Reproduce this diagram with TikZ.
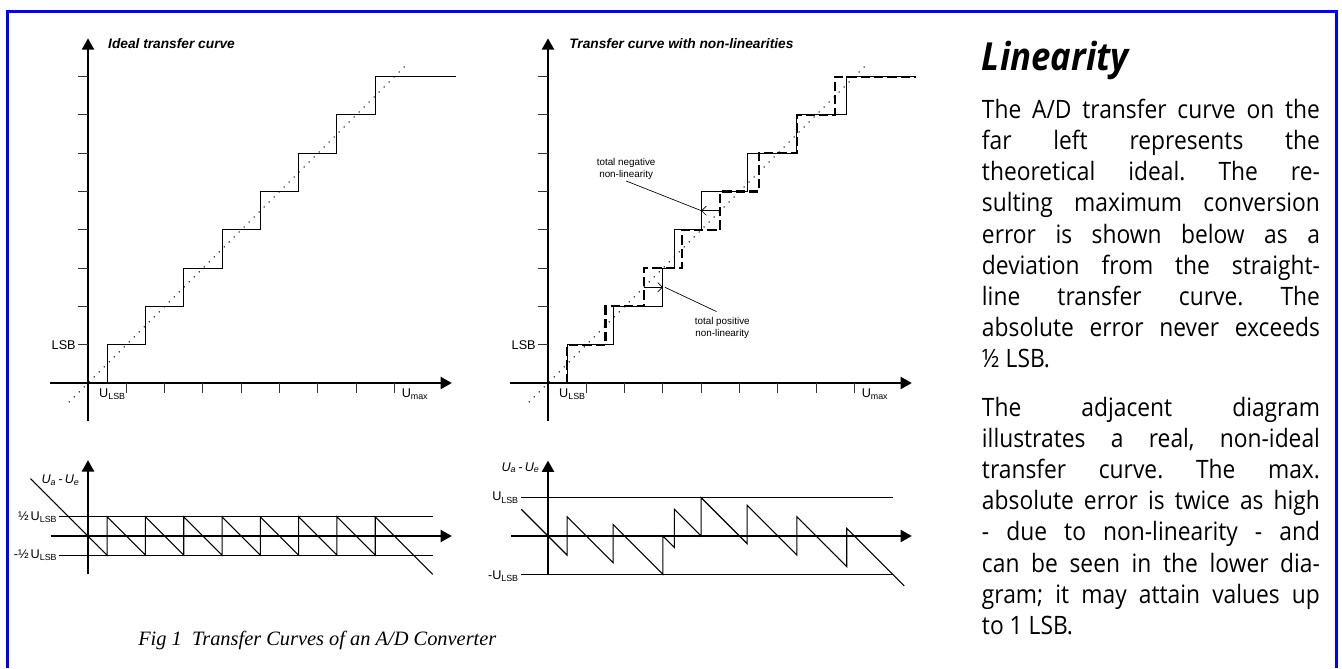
\documentclass[tikz,border=0pt]{standalone}
\usepackage{fontspec}
\setmainfont{Liberation Sans}
\newfontfamily\bodyfont[FakeStretch=0.9]{Open Sans}
\newfontfamily\capfont{Liberation Serif}
\usetikzlibrary{arrows.meta}
\def\idealsteps{0.5,1.5,2.5,3.5,4.5,5.5,6.5,7.5}
\def\realsteps{0.5,1.7,3,3.3,4,5.2,6.5,7.8}

\begin{document}
\begin{tikzpicture}[x=0.75pt,y=-0.75pt]
	\tikzset{axis/.style={line width=1.7pt,-{Triangle[width=9pt,length=8.5pt]}}}
	\tikzset{tickmark/.style={line width=0.75pt,black!80}}
	\tikzset{stair/.style={line width=0.8pt}}
	\tikzset{idealstair/.style={line width=1.6pt,dash pattern=on 7pt off 3pt}}
	\tikzset{slope/.style={line width=0.8pt,dash pattern=on 0.8pt off 4.5pt}}
	\tikzset{bound/.style={line width=0.6pt}}
	\tikzset{axlabel/.style={font=\fontsize{9.5}{11}\selectfont,inner sep=1pt}}
	\tikzset{plottitle/.style={font=\fontsize{10.3}{12}\selectfont\bfseries\itshape,anchor=west,inner sep=0pt}}
	\tikzset{remark/.style={font=\fontsize{7.4}{8.8}\selectfont,align=center,inner sep=1pt}}
	\tikzset{pointer/.style={line width=0.5pt,-{Straight Barb[length=3.5pt,width=7pt]}}}
	\tikzset{unit/.style={x=28.725pt,y=28.725pt}}

	\useasboundingbox (0,0) rectangle (1342,668);
	\draw[blue,line width=2pt] (7.3,668) -- (7.3,11.3) -- (1336.3,11.3) -- (1336.3,668);

	% ideal transfer curve
	\begin{scope}[shift={(88,383)},unit]
		\draw[axis] (-1,0) -- (9.5,0);
		\draw[axis] (0,-1) -- (0,9);
		\foreach \k in {1,...,8} {
			\draw[tickmark] (-0.26,\k) -- (0,\k);
			\draw[tickmark] (\k,0) -- (\k,-0.26);
		}
		\draw[slope] (-0.5,-0.5) -- (8.3,8.3);
		\draw[stair] (0.5,0) \foreach \t [count=\k] in \idealsteps { -| (\t,\k) } -- (9.6,8);
		\node[plottitle] (idealtitle) at (0.52,8.85) {Ideal transfer curve};
		\node[axlabel,anchor=east] (lsbA) at (-0.28,1) {LSB};
		\node[axlabel,anchor=north west] (ulsbA) at (0.25,-0.12) {U\textsubscript{LSB}};
		\node[axlabel,anchor=north west] (umaxA) at (8.15,-0.12) {U\textsubscript{max}};
	\end{scope}

	% ideal error
	\begin{scope}[shift={(88,536)},unit]
		\draw[bound] (-0.76,0.5) -- (9,0.5);
		\draw[bound] (-0.76,-0.5) -- (9,-0.5);
		\draw[axis] (-0.97,0) -- (9.5,0);
		\draw[axis] (0,-1) -- (0,1.98);
		\draw[stair] (-1.5,1.5) \foreach \t [count=\k] in \idealsteps { -- (\t,\k-1-\t) -- (\t,\k-\t) } -- (9,-1);
		\node[axlabel,anchor=east] (halfA) at (-0.76,0.5) {½\,U\textsubscript{LSB}};
		\node[axlabel,anchor=east] (mhalfA) at (-0.76,-0.5) {-½\,U\textsubscript{LSB}};
		\node[axlabel,anchor=east] (errA) at (-0.18,1.46) {\textit{U\textsubscript{a}\,-\,U\textsubscript{e}}};
	\end{scope}

	% real transfer curve
	\begin{scope}[shift={(548,383)},unit]
		\draw[axis] (-1,0) -- (9.5,0);
		\draw[axis] (0,-1) -- (0,9);
		\foreach \k in {1,...,8} {
			\draw[tickmark] (-0.26,\k) -- (0,\k);
			\draw[tickmark] (\k,0) -- (\k,-0.26);
		}
		\draw[slope] (-0.5,-0.5) -- (8.3,8.3);
		\draw[idealstair] (0.5,0) \foreach \t [count=\k] in \idealsteps { -| (\t,\k) } -- (9.6,8);
		\draw[stair] (0.5,0) \foreach \t [count=\k] in \realsteps { -| (\t,\k) } -- (9.6,8);
		\node[plottitle] (realtitle) at (0.55,8.85) {Transfer curve with non-linearities};
		\node[axlabel,anchor=east] (lsbB) at (-0.28,1) {LSB};
		\node[axlabel,anchor=north west] (ulsbB) at (0.25,-0.12) {U\textsubscript{LSB}};
		\node[axlabel,anchor=north west] (umaxB) at (8.15,-0.12) {U\textsubscript{max}};
		\node[remark] (negnote) at (2.04,5.59) {total negative\\non-linearity};
		\coordinate (negtip) at (4,4.5);
		\draw[pointer] (4.5,4.5) -- (negtip);
		\draw[line width=0.5pt] (negnote.south) -- (negtip);
		\node[remark] (posnote) at (4.55,1.43) {total positive\\non-linearity};
		\coordinate (postip) at (3,2.5);
		\draw[pointer] (2.5,2.5) -- (postip);
		\draw[line width=0.5pt] ([shift={(-0.15,0.12)}]posnote.north) -- ([xshift=1.5pt]postip);
	\end{scope}

	% real error
	\begin{scope}[shift={(548,536)},unit]
		\draw[bound] (-0.7,1) -- (9,1);
		\draw[bound] (-0.7,-1) -- (9,-1);
		\draw[axis] (-0.97,0) -- (9.5,0);
		\draw[axis] (0,-1) -- (0,1.97);
		\draw[stair] (-0.7,0.7) \foreach \t [count=\k] in \realsteps { -- (\t,\k-1-\t) -- (\t,\k-\t) } -- (9.3,-1.3);
		\node[axlabel,anchor=east] (lsbpos) at (-0.72,1) {U\textsubscript{LSB}};
		\node[axlabel,anchor=east] (lsbneg) at (-0.72,-1.05) {-U\textsubscript{LSB}};
		\node[axlabel,anchor=east] (errB) at (-0.18,1.78) {\textit{U\textsubscript{a}\,-\,U\textsubscript{e}}};
	\end{scope}

	% text column
	\node[anchor=base west,inner sep=0pt,font=\bodyfont\fontsize{29}{31}\selectfont\bfseries\itshape] (heading) at (981.7,70) {Linearity};
	\node[anchor=base west,inner sep=0pt,text width=253.5pt,align=justify,font=\bodyfont\fontsize{19}{23.4}\selectfont] (bodytext) at (981.7,118.3) {%
		\frenchspacing\setlength{\parskip}{12.7pt}\tolerance=10000\hyphenpenalty=10000\exhyphenpenalty=10000%
		The A/D transfer curve on the\linebreak
		far left represents the\linebreak
		theoretical ideal. The re-\linebreak
		sulting maximum conversion\linebreak
		error is shown below as a\linebreak
		deviation from the straight-\linebreak
		line transfer curve. The\linebreak
		absolute error never exceeds\linebreak
		½ LSB.\par
		The adjacent diagram\linebreak
		illustrates a real, non-ideal\linebreak
		transfer curve. The max.\linebreak
		absolute error is twice as high\linebreak
		- due to non-linearity - and\linebreak
		can be seen in the lower dia-\linebreak
		gram; it may attain values up\linebreak
		to 1 LSB.};
	\node[anchor=base west,inner sep=0pt,font=\capfont\itshape\fontsize{15.3}{18}\selectfont] (caption) at (138,645) {Fig 1\hspace{0.5em}Transfer Curves of an A/D Converter};
\end{tikzpicture}
\end{document}
